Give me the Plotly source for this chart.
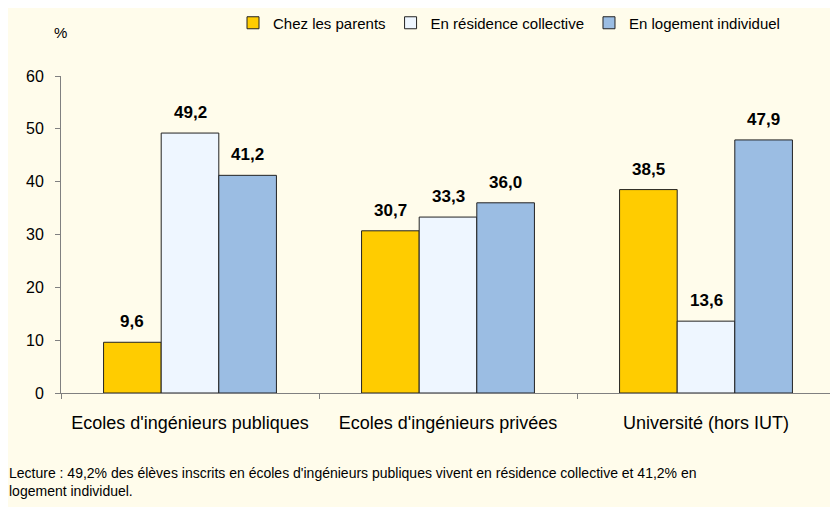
import plotly.graph_objects as go

categories = ["Ecoles d'ingénieurs publiques", "Ecoles d'ingénieurs privées", "Université (hors IUT)"]
series_names = ["Chez les parents", "En résidence collective", "En logement individuel"]
chez_parents = [9.6, 30.7, 38.5]
residence_collective = [49.2, 33.3, 13.6]
logement_individuel = [41.2, 36.0, 47.9]
y_ticks = [0, 10, 20, 30, 40, 50, 60]
colors = ["#FFCC00", "#EEF6FF", "#9BBDE3"]

series_values = [chez_parents, residence_collective, logement_individuel]

FONT = "Liberation Sans, Arial, sans-serif"
W, H = 838, 507
OFF = 8  # page body margin
ML, MT = 53, 68
plot_w, plot_h = 774, 317
MR = W - ML - plot_w
MB = H - MT - plot_h
bargap = 0.33
bar_px = plot_w / len(categories) * (1 - bargap) / 3


def xp(px):
    return (px - OFF - ML) / plot_w


def yp(py):
    return (MT + plot_h - (py - OFF)) / plot_h


fig = go.Figure()
for name, vals, col in zip(series_names, series_values, colors):
    fig.add_trace(go.Bar(
        name=name, x=categories, y=vals,
        marker=dict(color=col, line=dict(color="#222222", width=1)),
        hoverinfo="skip",
    ))

annotations = []
for i, vals in enumerate(series_values):
    for c, v in zip(categories, vals):
        annotations.append(dict(
            x=c, y=v, xref="x", yref="y",
            text=f"<b>{v:.1f}</b>".replace(".", ","),
            showarrow=False, yanchor="bottom", xanchor="center",
            xshift=(i - 1) * bar_px, yshift=9,
            font=dict(family=FONT, size=17, color="#000000"),
        ))

annotations.append(dict(
    x=xp(60), y=yp(33), xref="paper", yref="paper",
    text="%", showarrow=False, xanchor="center", yanchor="middle",
    font=dict(family=FONT, size=15, color="#000000"),
))
annotations.append(dict(
    x=xp(7), y=yp(463), xref="paper", yref="paper",
    text="Lecture : 49,2% des élèves inscrits en écoles d'ingénieurs publiques vivent en résidence collective et 41,2% en<br>logement individuel.",
    showarrow=False, xanchor="left", yanchor="top", align="left",
    font=dict(family=FONT, size=14, color="#000000"),
))

fig.update_layout(
    width=W, height=H,
    margin=dict(l=ML, r=MR, t=MT, b=MB, autoexpand=False),
    paper_bgcolor="#FFFCEB",
    plot_bgcolor="rgba(0,0,0,0)",
    barmode="group", bargap=bargap, bargroupgap=0,
    font=dict(family=FONT, size=16, color="#000000"),
    showlegend=True,
    legend=dict(
        orientation="h", x=xp(509), xanchor="center",
        y=yp(23), yanchor="middle",
        font=dict(family=FONT, size=15, color="#000000"),
        bgcolor="rgba(0,0,0,0)", traceorder="normal",
    ),
    annotations=annotations,
    xaxis=dict(
        showline=True, linecolor="#808080", linewidth=1,
        ticks="outside", tickson="boundaries", ticklen=5, tickcolor="#808080",
        showgrid=False, ticklabelstandoff=13,
        tickfont=dict(family=FONT, size=18, color="#000000"),
    ),
    yaxis=dict(
        range=[0, 60], tickvals=y_ticks,
        showline=True, linecolor="#808080", linewidth=1,
        ticks="outside", ticklen=5, tickcolor="#808080",
        showgrid=False, zeroline=False, ticklabelstandoff=8,
        tickfont=dict(family=FONT, size=16, color="#000000"),
    ),
)

fig.write_html("out.html")
